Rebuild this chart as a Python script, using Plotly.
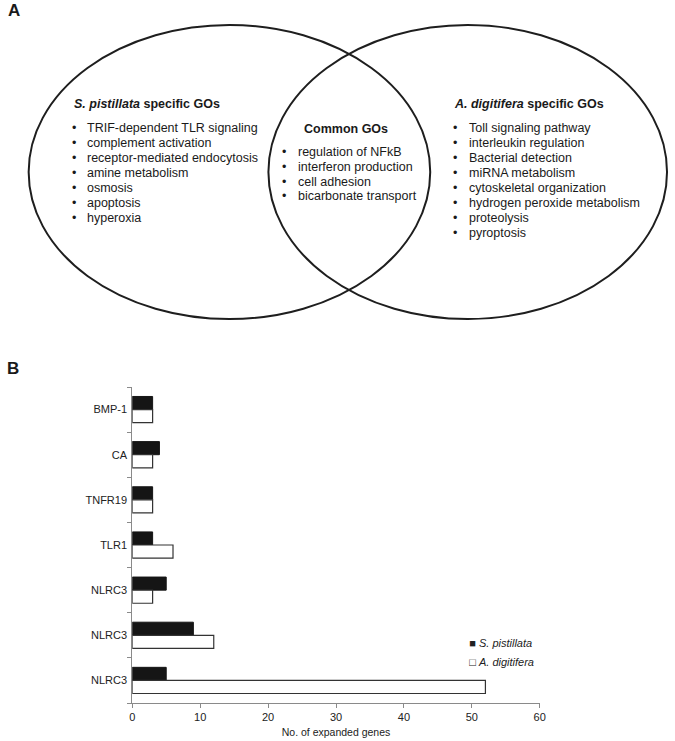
import plotly.graph_objects as go

W, H = 675, 741

# ---------------- Data ----------------
genes = ["BMP-1", "CA", "TNFR19", "TLR1", "NLRC3", "NLRC3", "NLRC3"]
s_pistillata = [3, 4, 3, 3, 5, 9, 5]
a_digitifera = [3, 3, 3, 6, 3, 12, 52]
x_ticks = [0, 10, 20, 30, 40, 50, 60]

sp_header = "<b><i>S. pistillata</i> specific GOs</b>"
sp_gos = ["TRIF-dependent TLR signaling", "complement activation",
          "receptor-mediated endocytosis", "amine metabolism", "osmosis",
          "apoptosis", "hyperoxia"]
common_header = "<b>Common GOs</b>"
common_gos = ["regulation of NFkB", "interferon production", "cell adhesion",
              "bicarbonate transport"]
ad_header = "<b><i>A. digitifera</i> specific GOs</b>"
ad_gos = ["Toll signaling pathway", "interleukin regulation", "Bacterial detection",
          "miRNA metabolism", "cytoskeletal organization",
          "hydrogen peroxide metabolism", "proteolysis", "pyroptosis"]


def px(x):
    return x / W


def py(y):
    return 1 - y / H


FONT = "Liberation Sans, Arial, sans-serif"
idx = list(range(len(genes)))

fig = go.Figure()
fig.add_trace(go.Bar(
    y=idx, x=s_pistillata, orientation="h", name="S. pistillata",
    marker=dict(color="#151515", line=dict(color="#151515", width=1)),
    showlegend=False))
fig.add_trace(go.Bar(
    y=idx, x=a_digitifera, orientation="h", name="A. digitifera",
    marker=dict(color="white", line=dict(color="#333333", width=1.2)),
    showlegend=False))
# legend entries (symbol drawn as a glyph right next to the text)
fig.add_trace(go.Scatter(
    x=[None], y=[None], mode="markers", name="■ <i>S. pistillata</i>",
    marker=dict(symbol="square", size=1, color="rgba(0,0,0,0)",
                line=dict(width=0))))
fig.add_trace(go.Scatter(
    x=[None], y=[None], mode="markers", name="□ <i>A. digitifera</i>",
    marker=dict(symbol="square", size=1, color="rgba(0,0,0,0)",
                line=dict(width=0))))

fig.update_layout(
    width=W, height=H,
    margin=dict(l=0, r=0, t=0, b=0),
    paper_bgcolor="white", plot_bgcolor="white",
    font=dict(family=FONT, color="#222222", size=11),
    barmode="group", bargap=0.42, bargroupgap=0,
    showlegend=True,
    legend=dict(x=px(432), y=py(628), xanchor="left", yanchor="top",
                bgcolor="rgba(0,0,0,0)", font=dict(size=11, family=FONT),
                itemwidth=30, tracegroupgap=0),
    xaxis=dict(domain=[px(131), px(544)], range=[0, 60], tickvals=x_ticks,
               showgrid=False, zeroline=False, showline=True, linecolor="#8a8a8a",
               linewidth=1, ticks="outside", ticklen=4, tickcolor="#8a8a8a",
               tickfont=dict(size=11), anchor="y",
               title=dict(text="No. of expanded genes", font=dict(size=10.5),
                          standoff=6)),
    yaxis=dict(domain=[py(703), py(387)], range=[6.5, -0.5], tickvals=idx,
               ticktext=genes, showgrid=False, zeroline=False, showline=True,
               linecolor="#8a8a8a", linewidth=1, ticks="", tickfont=dict(size=11),
               minor=dict(tickvals=[i - 0.5 for i in range(len(genes) + 1)],
                          ticks="outside", ticklen=4, tickcolor="#8a8a8a"),
               ticklabelstandoff=2),
)

# Venn ellipses
for x0, x1 in [(26, 433), (269, 673)]:
    fig.add_shape(type="circle", xref="paper", yref="paper",
                  x0=px(x0), x1=px(x1), y0=py(319), y1=py(25),
                  line=dict(color="#1e1e1e", width=2), fillcolor="rgba(0,0,0,0)")

ann = []


def add_text(text, x, y, size=12.5, xanchor="left"):
    ann.append(dict(text=text, x=px(x), y=py(y), xref="paper", yref="paper",
                    xanchor=xanchor, yanchor="middle", showarrow=False,
                    font=dict(size=size, family=FONT, color="#1a1a1a")))


add_text("<b>A</b>", 3, 10, size=17)
add_text("<b>B</b>", 2, 368, size=17)

add_text(sp_header, 70, 104)
for i, t in enumerate(sp_gos):
    add_text("•", 71.7, 128.3 + 15 * i, xanchor="center")
    add_text(t, 83, 128.3 + 15 * i)

add_text(common_header, 348, 129, xanchor="center")
for i, t in enumerate(common_gos):
    add_text("•", 285, 152 + 14.8 * i, xanchor="center")
    add_text(t, 297, 152 + 14.8 * i)

add_text(ad_header, 455, 104)
for i, t in enumerate(ad_gos):
    add_text("•", 457.7, 128.3 + 15 * i, xanchor="center")
    add_text(t, 470, 128.3 + 15 * i)

fig.update_layout(annotations=ann)

fig.write_html("out.html", config={"displayModeBar": False},
               post_script="document.body.style.margin='0';")
